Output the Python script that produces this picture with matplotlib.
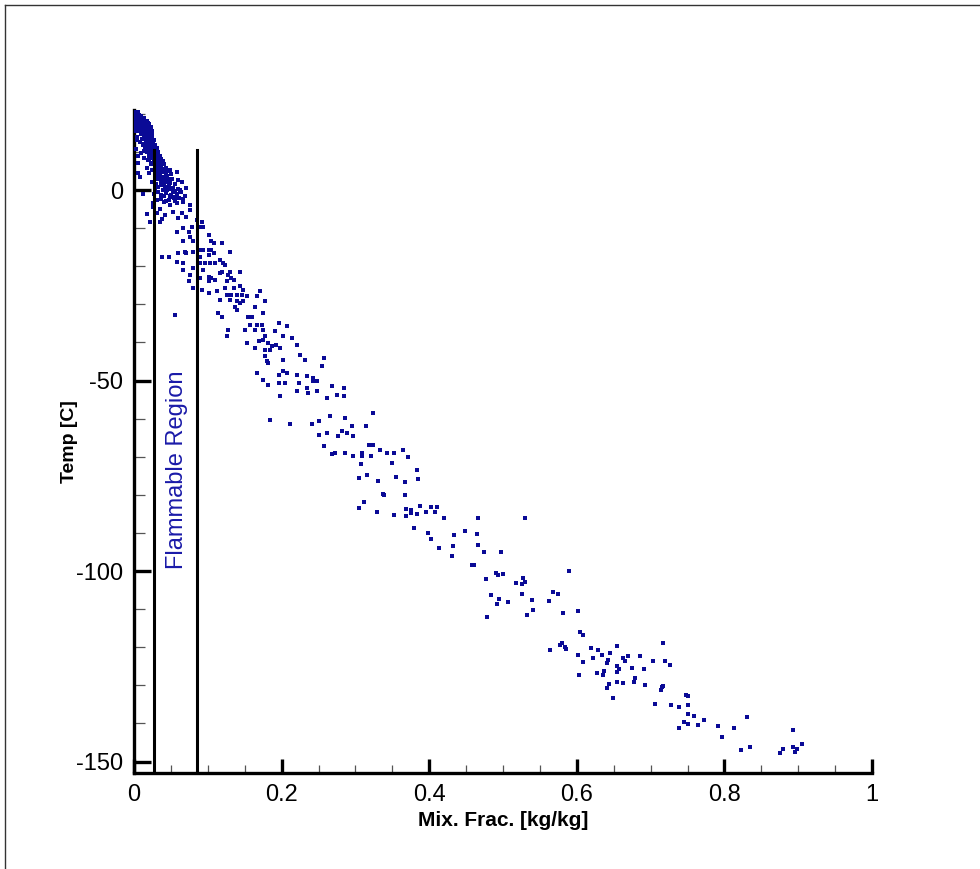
import matplotlib
matplotlib.use("Agg")
import matplotlib.pyplot as plt
from matplotlib.lines import Line2D
import numpy as np

plt.rcParams['font.family'] = ['Liberation Sans', 'DejaVu Sans']
plt.rcParams['axes.unicode_minus'] = False

# ---------------- data ----------------
x_ticks = [0, 0.2, 0.4, 0.6, 0.8, 1.0]
x_tick_labels = ["0", "0.2", "0.4", "0.6", "0.8", "1"]
y_ticks = [0, -50, -100, -150]
y_tick_labels = ["0", "-50", "-100", "-150"]

lean_limit = 0.0276   # flammable region lower mixture fraction
rich_limit = 0.0858   # flammable region upper mixture fraction
limit_top = 10.5      # top of the limit lines [C]

# dense cluster near x = 0
pts_dense = [
    (0.001,20.8),(0.003,20.5),(0.005,20.2),(0.001,19.9),(0.004,19.8),(0.007,19.8),(0.009,19.5),
    (0.002,19.3),(0.006,19.2),(0.011,19.0),(0.013,18.8),(0.001,18.7),(0.004,18.6),(0.008,18.5),
    (0.010,18.3),(0.015,18.2),(0.017,18.0),(0.003,17.9),(0.006,17.8),(0.012,17.6),(0.014,17.4),
    (0.019,17.5),(0.021,17.2),(0.002,17.0),(0.009,17.0),(0.016,16.8),(0.018,16.5),(0.023,16.6),
    (0.005,16.3),(0.011,16.2),(0.013,16.0),(0.020,15.8),(0.024,15.5),(0.001,15.5),(0.007,15.4),
    (0.015,15.3),(0.017,15.0),(0.022,14.8),(0.010,14.6),(0.019,14.3),(0.025,14.2),(0.004,14.0),
    (0.013,13.8),(0.021,13.5),(0.016,13.2),(0.023,12.8),(0.027,13.0),(0.008,12.6),(0.018,12.4),
    (0.025,12.0),(0.012,11.8),(0.020,11.5),(0.028,11.3),(0.015,11.0),(0.022,10.6),(0.030,10.3),
    (0.003,10.8),(0.018,10.0),(0.026,9.8),(0.032,9.5),(0.010,9.6),(0.021,9.2),(0.029,8.8),
    (0.024,8.5),(0.033,8.2),(0.014,8.4),(0.019,7.9),(0.027,7.6),(0.035,7.4),(0.031,7.0),
    (0.023,6.8),(0.037,6.5),(0.006,7.2),(0.028,6.0),(0.034,5.7),(0.040,5.5),(0.017,5.8),
    (0.025,5.2),(0.031,4.8),(0.038,4.6),(0.043,4.3),(0.021,4.4),(0.035,4.0),(0.028,3.6),
    (0.041,3.4),(0.046,3.0),(0.033,2.9),(0.038,2.4),(0.044,2.0),(0.049,1.8),(0.025,2.2),
    (0.030,1.5),(0.036,1.2),(0.042,0.9),(0.051,0.6),(0.047,0.3),(0.039,0.0),(0.055,-0.3),
    (0.033,-0.4),(0.044,-0.8),(0.050,-1.2),(0.058,-1.0),(0.027,-1.0),(0.041,-1.6),(0.054,-2.0),
    (0.061,-2.2),(0.036,-2.3),(0.047,-2.5),
    (0.004,13.0),(0.006,9.0),(0.005,4.5),(0.008,3.5),(0.012,-1.0),(0.017,-6.3),(0.022,-8.3),
    (0.026,-4.5),(0.035,-5.0),(0.038,-7.5),
    (0.049,5.2),(0.058,4.8),(0.060,2.6),(0.065,2.2),(0.047,0.9),(0.053,0.4),(0.062,0.0),
    (0.071,0.4),(0.051,-1.8),(0.060,-2.2),
]

# more points filling the solid part of the cluster
pts_dense_fill = [
    (0.000,20.3),(0.002,20.0),(0.006,20.4),(0.008,19.1),(0.003,18.9),(0.012,18.5),(0.016,17.7),
    (0.007,17.3),(0.011,17.1),(0.020,16.9),(0.003,16.6),(0.014,16.5),(0.008,16.0),(0.018,15.6),
    (0.022,15.9),(0.012,15.1),(0.020,14.6),(0.014,14.3),(0.024,14.9),(0.016,13.9),(0.019,13.0),
    (0.025,13.5),(0.011,13.3),(0.021,12.5),(0.014,12.1),(0.026,12.6),(0.017,11.6),(0.023,11.2),
    (0.029,11.9),(0.019,10.8),(0.025,10.5),(0.031,10.9),(0.014,10.2),(0.028,9.9),(0.022,9.7),
    (0.033,10.1),(0.024,9.0),(0.030,9.2),(0.035,8.9),(0.027,8.3),(0.037,8.1),(0.021,8.1),
    (0.031,7.8),(0.039,7.6),(0.025,7.2),(0.033,6.6),(0.041,6.9),(0.029,6.4),(0.036,5.9),
    (0.043,5.8),(0.032,5.3),(0.040,4.9),(0.046,5.0),(0.034,4.5),(0.045,3.8),(0.050,4.1),
    (0.031,3.3),(0.037,3.2),(0.043,2.7),(0.052,2.9),(0.036,1.9),(0.040,1.5),(0.047,1.3),
    (0.055,1.5),(0.033,0.7),(0.045,0.0),(0.053,-0.5),(0.059,0.3),(0.049,-1.7),(0.057,-1.8),
    (0.064,-0.6),(0.066,-2.4),(0.043,-2.8),(0.055,-3.0),(0.069,-1.5),(0.028,0.4),(0.036,-1.3),
    (0.031,-2.5),
]

# band from x = 0.02 to 0.29
pts_band1 = [
    (0.026,-3.5),(0.040,-3.1),(0.049,-3.9),(0.058,-3.5),(0.067,-3.1),(0.076,-3.9),(0.031,-6.1),
    (0.042,-6.6),(0.053,-5.7),(0.065,-6.1),(0.076,-5.2),(0.035,-8.3),(0.060,-7.4),(0.071,-7.0),
    (0.085,-7.9),(0.092,-8.3),(0.058,-10.9),(0.067,-10.0),(0.074,-10.9),(0.078,-9.6),(0.090,-9.6),
    (0.094,-9.6),(0.067,-13.5),(0.076,-12.2),(0.080,-13.5),(0.101,-11.8),(0.105,-13.5),(0.119,-14.0),
    (0.108,-14.0),(0.069,-16.2),(0.080,-16.2),(0.090,-15.7),(0.094,-15.7),(0.101,-15.7),(0.105,-15.7),
    (0.130,-16.2),(0.038,-17.5),(0.047,-17.5),(0.060,-16.6),(0.071,-16.6),(0.090,-17.5),(0.101,-17.0),
    (0.108,-16.6),(0.117,-18.3),(0.058,-18.8),(0.067,-19.2),(0.090,-19.2),(0.096,-19.2),(0.103,-19.2),
    (0.110,-19.2),(0.121,-19.2),(0.123,-19.6),(0.067,-21.0),(0.080,-20.5),(0.094,-21.0),(0.119,-21.4),
    (0.130,-21.4),(0.144,-21.4),(0.076,-22.3),(0.090,-23.1),(0.101,-22.7),(0.105,-23.1),(0.117,-21.8),
    (0.128,-22.3),(0.132,-23.1),(0.074,-24.0),(0.101,-24.0),(0.110,-23.6),(0.126,-24.0),(0.135,-23.6),
    (0.080,-25.8),(0.092,-26.2),(0.101,-27.1),(0.112,-26.6),(0.123,-25.8),(0.135,-25.8),(0.144,-25.3),
    (0.148,-26.2),(0.171,-26.6),(0.126,-27.5),(0.132,-27.5),(0.139,-27.5),(0.146,-27.5),(0.153,-27.9),
    (0.166,-27.9),(0.117,-28.8),(0.130,-28.8),(0.139,-29.2),(0.144,-29.7),(0.148,-29.2),(0.178,-29.2),
    (0.137,-30.6),(0.164,-30.6),(0.114,-32.3),(0.139,-31.4),(0.056,-32.7),(0.119,-33.2),(0.155,-33.2),
    (0.160,-33.2),(0.175,-32.3),(0.157,-35.4),(0.166,-35.4),(0.173,-35.4),(0.196,-34.9),(0.207,-35.8),
    (0.128,-36.7),(0.151,-36.7),(0.164,-36.7),(0.175,-36.7),(0.191,-37.1),(0.126,-38.4),(0.178,-38.4),
    (0.202,-38.4),(0.214,-38.9),(0.153,-40.2),(0.169,-39.7),(0.175,-39.3),(0.182,-40.2),(0.187,-41.0),
    (0.193,-40.6),(0.221,-40.6),(0.164,-41.5),(0.178,-41.9),(0.184,-41.9),(0.198,-41.5),(0.225,-43.2),
    (0.178,-43.6),(0.180,-45.0),(0.202,-44.5),(0.232,-44.5),(0.257,-44.1),(0.182,-45.4),(0.255,-46.3),
    (0.202,-47.6),(0.166,-48.0),(0.196,-48.5),(0.207,-48.0),(0.221,-48.5),(0.175,-49.8),(0.234,-48.9),
    (0.243,-49.3),(0.196,-50.6),(0.205,-50.6),(0.223,-50.6),(0.243,-50.2),(0.248,-50.2),(0.182,-51.1),
    (0.234,-52.0),(0.268,-51.5),(0.284,-52.0),(0.198,-54.1),(0.221,-52.8),(0.236,-53.3),(0.248,-52.8),
    (0.261,-54.6),(0.275,-53.7),(0.284,-54.1),
]

# band from x = 0.18 to 0.39
pts_band2 = [
    (0.324,-58.5),(0.184,-60.4),(0.211,-61.5),(0.241,-61.3),(0.250,-60.7),(0.266,-59.4),(0.286,-59.8),
    (0.261,-63.7),(0.276,-64.6),(0.282,-63.3),(0.288,-63.7),(0.295,-62.0),(0.297,-64.6),(0.315,-62.0),
    (0.250,-64.2),(0.257,-67.2),(0.268,-69.4),(0.272,-69.0),(0.286,-69.0),(0.297,-69.8),(0.309,-69.0),
    (0.309,-69.8),(0.318,-66.8),(0.324,-67.0),(0.334,-68.1),(0.343,-69.0),(0.352,-69.0),(0.365,-68.1),
    (0.371,-70.0),(0.321,-69.8),(0.349,-71.6),(0.307,-71.8),(0.383,-73.6),(0.316,-74.8),(0.305,-75.5),
    (0.355,-75.2),(0.331,-76.4),(0.367,-76.6),(0.385,-75.9),(0.337,-79.9),(0.339,-80.1),(0.367,-80.0),
]

# band from x = 0.30 to 0.60
pts_band3 = [
    (0.311,-81.9),(0.305,-83.5),(0.329,-84.4),(0.352,-85.3),(0.368,-83.8),(0.368,-85.5),(0.376,-83.9),
    (0.376,-84.8),(0.384,-85.1),(0.387,-83.0),(0.395,-84.6),(0.402,-83.2),(0.411,-83.2),(0.408,-84.4),
    (0.420,-86.0),(0.466,-86.2),(0.530,-86.2),(0.380,-88.7),(0.398,-89.9),(0.403,-91.6),(0.413,-93.9),
    (0.434,-90.6),(0.448,-89.6),(0.465,-90.3),(0.466,-93.2),(0.432,-93.3),(0.431,-96.0),(0.474,-95.1),
    (0.497,-95.1),(0.458,-98.4),(0.461,-98.4),(0.490,-100.4),(0.493,-101.0),(0.500,-100.8),(0.589,-99.9),
    (0.477,-102.2),(0.518,-103.1),(0.526,-103.4),(0.527,-101.9),(0.530,-102.8),(0.484,-106.2),
    (0.495,-107.4),(0.492,-108.6),(0.507,-108.1),(0.526,-105.9),(0.539,-107.7),(0.563,-107.9),
    (0.568,-105.6),(0.575,-106.0),(0.478,-112.1),(0.533,-111.5),(0.541,-110.2),(0.581,-111.0),
    (0.601,-110.4),
]

# tail from x = 0.56 to 0.91
pts_tail = [
    (0.605,-116.0),(0.608,-116.9),(0.577,-119.3),(0.580,-118.8),(0.584,-120.0),(0.586,-120.4),
    (0.564,-120.8),(0.602,-122.0),(0.608,-123.9),(0.603,-127.2),(0.619,-120.1),(0.629,-120.8),
    (0.622,-122.8),(0.634,-122.1),(0.645,-121.5),(0.654,-119.7),(0.642,-123.3),(0.641,-124.1),
    (0.662,-122.7),(0.669,-122.4),(0.665,-123.7),(0.685,-122.2),(0.703,-123.7),(0.717,-119.0),
    (0.719,-123.7),(0.726,-124.7),(0.675,-125.4),(0.655,-124.9),(0.657,-125.6),(0.691,-125.8),
    (0.654,-126.5),(0.637,-126.2),(0.635,-127.2),(0.627,-126.8),(0.679,-128.0),(0.677,-129.2),
    (0.693,-129.9),(0.663,-129.4),(0.654,-129.0),(0.644,-129.7),(0.641,-130.8),(0.649,-133.3),
    (0.717,-130.1),(0.716,-130.3),(0.714,-131.3),(0.706,-135.0),(0.727,-135.1),(0.739,-135.8),
    (0.748,-132.6),(0.750,-132.9),(0.750,-135.1),(0.751,-137.6),(0.759,-138.1),(0.772,-139.1),
    (0.764,-140.4),(0.750,-140.2),(0.745,-139.7),(0.739,-141.3),(0.791,-140.6),(0.797,-143.6),
    (0.813,-141.3),(0.830,-138.4),(0.822,-147.0),(0.835,-146.1),(0.876,-147.7),(0.879,-146.8),
    (0.893,-141.8),(0.893,-146.1),(0.898,-146.6),(0.895,-147.5),(0.905,-145.4),
]

# ---------------- figure ----------------
W, H = 980, 869
fig = plt.figure(figsize=(W / 100, H / 100), dpi=100)
fig.patch.set_facecolor('white')

# thin frame lines at top and left of the image
fig.add_artist(Line2D([5 / W, 1.0], [1 - 5 / H, 1 - 5 / H], transform=fig.transFigure,
                      color='#333333', lw=1.0))
fig.add_artist(Line2D([5 / W, 5 / W], [0.0, 1 - 5 / H], transform=fig.transFigure,
                      color='#333333', lw=1.0))

ax = fig.add_axes([134 / W, 1 - 773 / H, (872 - 134) / W, (773 - 110) / H])

marker_color = '#0a0a96'
for grp in [pts_dense, pts_dense_fill, pts_band1, pts_band2, pts_band3, pts_tail]:
    arr = np.array(grp)
    ax.scatter(arr[:, 0], arr[:, 1], s=9, marker='s', color=marker_color,
               linewidths=0, zorder=3)

ax.set_xlim(0, 1)
ax.set_ylim(-153.0, 21.0)

# flammable limits
ax.plot([lean_limit, lean_limit], [-153.0, limit_top], color='black', lw=2.2, zorder=4)
ax.plot([rich_limit, rich_limit], [-153.0, limit_top], color='black', lw=2.2, zorder=4)
ax.text(0.0585, -73.5, "Flammable Region", rotation=90,
        ha='center', va='center', color='#1a1aa8', fontsize=17)

# spines
for s in ['top', 'right']:
    ax.spines[s].set_visible(False)
for s in ['left', 'bottom']:
    ax.spines[s].set_linewidth(2.4)
    ax.spines[s].set_color('black')

ax.set_xticks(x_ticks)
ax.set_xticklabels(x_tick_labels)
ax.set_yticks(y_ticks)
ax.set_yticklabels(y_tick_labels)
ax.set_xticks(np.arange(0.05, 1.0, 0.05), minor=True)
ax.set_yticks(np.arange(-150, 21, 10), minor=True)

ax.tick_params(axis='both', which='major', direction='in', width=2.4, labelsize=17,
               color='black')
ax.tick_params(axis='x', which='major', length=10, pad=8)
ax.tick_params(axis='y', which='major', length=12, pad=8)
ax.tick_params(axis='both', which='minor', direction='in', width=0.9, color='#555555')
ax.tick_params(axis='x', which='minor', length=6)
ax.tick_params(axis='y', which='minor', length=8)

ax.set_xlabel("Mix. Frac. [kg/kg]", fontsize=15, fontweight='bold')
ax.set_ylabel("Temp [C]", fontsize=14, fontweight='bold')
ax.xaxis.set_label_coords(0.5, -0.058)
ax.yaxis.set_label_coords(-0.076, 0.5)

fig.savefig("out.png", dpi=100, facecolor='white')
